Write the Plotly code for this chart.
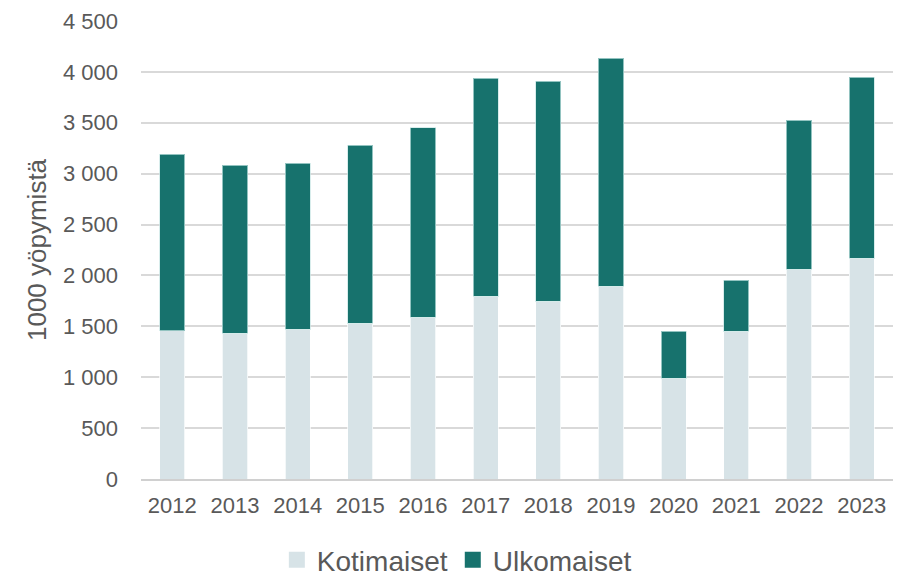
import plotly.graph_objects as go

years = ["2012", "2013", "2014", "2015", "2016", "2017", "2018", "2019", "2020", "2021", "2022", "2023"]
kotimaiset = [1457, 1431, 1470, 1532, 1591, 1798, 1745, 1893, 992, 1451, 2063, 2168]
ulkomaiset = [1736, 1653, 1634, 1749, 1860, 2138, 2165, 2243, 459, 504, 1460, 1778]
y_ticks = [0, 500, 1000, 1500, 2000, 2500, 3000, 3500, 4000, 4500]
series_names = ["Kotimaiset", "Ulkomaiset"]
series_colors = ["#D7E3E7", "#17726D"]

TXT = "#595959"
FONT = "Liberation Sans, Arial, sans-serif"

fig = go.Figure()
fig.add_trace(go.Bar(x=years, y=kotimaiset, name=series_names[0], showlegend=False,
                     marker=dict(color=series_colors[0], line=dict(color="rgba(255,255,255,0.7)", width=1))))
fig.add_trace(go.Bar(x=years, y=ulkomaiset, name=series_names[1], showlegend=False,
                     marker=dict(color=series_colors[1], line=dict(color="rgba(200,230,228,0.7)", width=1))))
# legend entries with larger square swatches
for nm, col in zip(series_names, series_colors):
    fig.add_trace(go.Scatter(x=[None], y=[None], mode="markers", name=nm,
                             marker=dict(symbol="square", size=16, color=col), showlegend=True))

# page has an 8px body margin, so the figure is 904x571 and offset by 8px
fig.update_layout(
    barmode="stack",
    bargap=0.6,
    width=904, height=571,
    margin=dict(l=133, r=19, t=13, b=100, autoexpand=False),
    paper_bgcolor="white", plot_bgcolor="white",
    separators=", ",
    font=dict(family=FONT, color=TXT, size=20),
    showlegend=True,
    legend=dict(orientation="h", x=0.42, xanchor="center",
                y=-0.177, yanchor="middle",
                font=dict(size=28, color=TXT), itemwidth=30, traceorder="normal",
                tracegroupgap=0),
    xaxis=dict(showgrid=False, showline=True, linecolor="#D0D0D0", linewidth=1.5,
               ticks="", automargin=False, tickfont=dict(size=22, color=TXT),
               ticklabelstandoff=6),
    yaxis=dict(range=[0, 4500], tickvals=y_ticks, tickformat=",d",
               showgrid=True, gridcolor="#D9D9D9", gridwidth=1.5,
               zeroline=False, showline=False, ticks="", automargin=False,
               ticklabelstandoff=22,
               tickfont=dict(size=22, color=TXT),
               title=dict(text="1000 yöpymistä", font=dict(size=26, color=TXT), standoff=8)),
)

fig.write_html("out.html")
